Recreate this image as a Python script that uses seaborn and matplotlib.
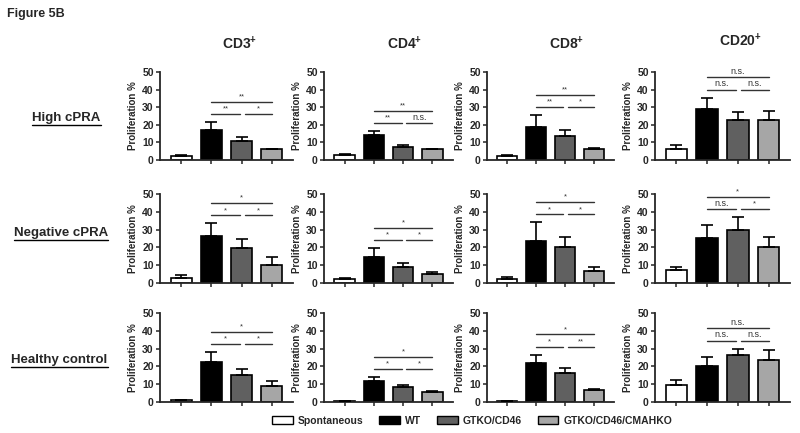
import numpy as np
import pandas as pd
import seaborn as sns
import matplotlib.pyplot as plt
from matplotlib.patches import Patch
from matplotlib.lines import Line2D

groups = ["Spontaneous", "WT", "GTKO/CD46", "GTKO/CD46/CMAHKO"]
bar_colors = ["white", "black", "#606060", "#a6a6a6"]
cell_types = ["CD3", "CD4", "CD8", "CD20"]
cohorts = ["High cPRA", "Negative cPRA", "Healthy control"]

# mean proliferation % per cell type (CD3, CD4, CD8, CD20), one value per group
high_mean = [[2.5, 17, 11, 6], [3, 14, 7.5, 6], [2.5, 19, 13.5, 6.5], [6, 29, 22.5, 23]]
high_err = [[0.5, 4.5, 2, 0.5], [0.5, 2.5, 1, 0.5], [0.5, 6.5, 3.5, 0.5], [2.5, 6.5, 4.5, 5]]
high_sig = [["**", "**", "*"], ["**", "**", "n.s."], ["**", "**", "*"], ["n.s.", "n.s.", "n.s."]]

neg_mean = [[3, 26.5, 19.5, 10], [2, 14.5, 9, 5], [2.5, 23.5, 20, 7], [7.5, 25.5, 29.5, 20]]
neg_err = [[1.5, 7, 5.5, 4.5], [0.7, 5, 2.5, 1], [0.7, 10.5, 6, 2], [1.5, 7, 7.5, 6]]
neg_sig = [["*", "*", "*"], ["*", "*", "*"], ["*", "*", "*"], ["*", "n.s.", "*"]]

hc_mean = [[1, 22.5, 15, 9], [0.5, 12, 8.5, 5.5], [0.5, 22, 16.5, 6.5], [9.5, 20, 26.5, 23.5]]
hc_err = [[0.2, 5.5, 3.5, 3], [0.2, 2, 1.2, 0.5], [0.2, 4.5, 2.5, 1], [3, 5.5, 3.5, 5.5]]
hc_sig = [["*", "*", "*"], ["*", "*", "*"], ["*", "*", "**"], ["n.s.", "n.s.", "n.s."]]
# sig order: WT vs CMAHKO (top), WT vs GTKO/CD46, GTKO/CD46 vs CMAHKO

sns.set_theme(style="ticks")
plt.rcParams["font.family"] = ["Liberation Sans", "DejaVu Sans"]
plt.rcParams["mathtext.fontset"] = "custom"
plt.rcParams["mathtext.rm"] = "Liberation Sans"
plt.rcParams["mathtext.bf"] = "Liberation Sans:bold"

W, H = 800, 433
fig = plt.figure(figsize=(8, 4.33), dpi=100)
fig.patch.set_facecolor("white")

col_px = [(160, 293), (324, 453), (487, 614), (655, 790)]
row_px = [(72, 160), (194, 283), (313, 402)]

palette = dict(zip(groups, bar_colors))
all_rows = [(high_mean, high_err, high_sig), (neg_mean, neg_err, neg_sig), (hc_mean, hc_err, hc_sig)]

for r, (means, errs, sigs) in enumerate(all_rows):
    y0, y1 = row_px[r]
    for c in range(4):
        x0, x1 = col_px[c]
        ax = fig.add_axes([x0 / W, 1 - y1 / H, (x1 - x0) / W, (y1 - y0) / H])
        df = pd.DataFrame({"group": groups, "value": means[c]})
        sns.barplot(data=df, x="group", y="value", hue="group", order=groups, hue_order=groups,
                    palette=palette, saturation=1, edgecolor="black", linewidth=1.2,
                    width=0.7, legend=False, errorbar=None, ax=ax)
        ax.errorbar(np.arange(4), means[c], yerr=[np.zeros(4), errs[c]], fmt="none",
                    ecolor="black", elinewidth=1.2, capsize=4, capthick=1.2,
                    clip_on=False, zorder=3)
        ax.set_xlim(-0.7, 3.7)
        ax.set_ylim(0, 50)
        ax.set_yticks([0, 10, 20, 30, 40, 50])
        ax.set_xticks(range(4))
        ax.set_xticklabels([])
        ax.set_xlabel("")
        ax.set_ylabel("Proliferation %", fontsize=7, fontweight="bold", labelpad=3)
        ax.tick_params(axis="both", length=3, width=1.1, pad=1.5, labelsize=7.5)
        for lab in ax.get_yticklabels():
            lab.set_fontweight("bold")
        sns.despine(ax=ax)
        for s in ["left", "bottom"]:
            ax.spines[s].set_linewidth(1.3)
        ax.patch.set_alpha(0)

        # significance brackets
        tops = np.array(means[c]) + np.array(errs[c])
        lower = tops.max() + 4.5
        upper = lower + 7
        lc = "#333333"
        for xs, yv in [([1, 1.95], lower), ([2.1, 3], lower), ([1, 3], upper)]:
            ax.plot(xs, [yv, yv], color=lc, lw=1.0, clip_on=False)
        for xm, yv, s in [(2, upper, sigs[c][0]), (1.475, lower, sigs[c][1]), (2.55, lower, sigs[c][2])]:
            fs = 6.5 if s == "n.s." else 5.5
            ax.text(xm, yv + 0.8, s, ha="center", va="bottom", fontsize=fs, color=lc, clip_on=False)

# column titles
title_pos = [(240, 44), (405, 44), (567, 44), (740, 41)]
for name, (tx, ty) in zip(cell_types, title_pos):
    fig.text(tx / W, 1 - ty / H, name + r"$^{\mathbf{+}}$", ha="center", va="center",
             fontsize=10, fontweight="bold")

# row labels (underlined)
row_lab_pos = [(66.5, 118), (61, 233), (59.5, 360)]
renderer = fig.canvas.get_renderer()
for name, (tx, ty) in zip(cohorts, row_lab_pos):
    t = fig.text(tx / W, 1 - ty / H, name, ha="center", va="center", fontsize=9.5, fontweight="bold")
    bb = t.get_window_extent(renderer).transformed(fig.transFigure.inverted())
    fig.add_artist(Line2D([bb.x0, bb.x1], [bb.y0 - 0.002, bb.y0 - 0.002], color="black",
                          lw=1.0, transform=fig.transFigure))

fig.text(7 / W, 1 - 14 / H, "Figure 5B", ha="left", va="center", fontsize=9, fontweight="bold")

handles = [Patch(facecolor=col, edgecolor="black", linewidth=1.0) for col in bar_colors]
fig.legend(handles, groups, loc="center", bbox_to_anchor=(472 / W, 1 - 421 / H), ncol=4,
           frameon=False, prop={"weight": "bold", "size": 7.5}, handlelength=2.0,
           handleheight=0.8, handletextpad=0.5, columnspacing=1.5)

fig.savefig("out.png", dpi=100)
